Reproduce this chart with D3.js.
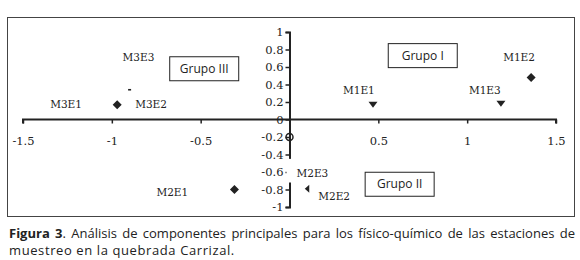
<!DOCTYPE html>
<html>
<head>
<meta charset="utf-8">
<script src="https://cdn.jsdelivr.net/npm/d3@7"></script>
<style>
  body { margin: 0; background: #fff; }
  svg { display: block; }
</style>
</head>
<body>
<svg id="chart"></svg>
<script>
// station scores on the first two components
var names = ['M1E1', 'M1E2', 'M1E3', 'M2E1', 'M2E2', 'M2E3', 'M3E1', 'M3E2', 'M3E3'];
var xVals = [0.47, 1.36, 1.19, -0.31, 0.10, 0.00, -0.97, -0.97, -0.90];
var yVals = [0.17, 0.48, 0.18, -0.80, -0.79, -0.20, 0.17, 0.17, 0.34];
var shapes = ['triDown', 'diamond', 'triDown', 'diamond', 'triLeft', 'circle', 'diamond', 'none', 'dash'];

var groupNames = ['Grupo I', 'Grupo II', 'Grupo III'];
var groupX = [0.75, 0.62, -0.48];
var groupY = [0.73, -0.74, 0.58];

var xTicks = [-1.5, -1, -0.5, 0.5, 1, 1.5];
var yTicks = [-1, -0.8, -0.6, -0.4, -0.2, 0, 0.2, 0.4, 0.6, 0.8, 1];

// label placement (pixels from the marker)
var labelDx = [-30, -28, -32, -78, 11, 7, -67, 18, -7];
var labelDy = [-14, -20, -13, 3, 8, 36, 0, 0, -32];

var W = 580, H = 260;
var svg = d3.select('#chart').attr('width', W).attr('height', H);

var x = d3.scaleLinear().domain([-1.5, 1.5]).range([23, 556]);
var y = d3.scaleLinear().domain([-1, 1]).range([207, 32]);

var ink = '#222';
var serif = '"DejaVu Serif", serif';

svg.append('rect')
  .attr('x', 7.5).attr('y', 17.5)
  .attr('width', 567).attr('height', 199)
  .style('fill', 'none')
  .style('stroke', '#444')
  .style('stroke-width', 1);

// x axis
var xAxis = svg.append('g')
  .attr('transform', `translate(0, ${y(0)})`)
  .call(d3.axisBottom(x).tickValues(xTicks).tickSize(4).tickFormat(d => String(d)));
xAxis.select('.domain').attr('d', `M${x(-1.5)},4V0H${x(1.5)}V4`).style('stroke', ink).style('stroke-width', 2);
xAxis.selectAll('line').style('stroke', ink).style('stroke-width', 1.5);
xAxis.selectAll('text')
  .attr('dy', 0).attr('y', 25)
  .style('font-family', serif).style('font-size', '11.5px').style('fill', ink);

// y axis
var yAxis = svg.append('g')
  .attr('transform', `translate(${x(0)}, 0)`)
  .call(d3.axisLeft(y).tickValues(yTicks).tickSize(4).tickFormat(d => String(d)));
yAxis.select('.domain').style('stroke', ink).style('stroke-width', 2);
yAxis.selectAll('line').style('stroke', ink).style('stroke-width', 1.5);
yAxis.selectAll('text')
  .attr('x', -6)
  .style('font-family', serif).style('font-size', '11.5px').style('fill', ink);

// white gap behind the M2E3 label
svg.append('rect')
  .attr('x', x(0) - 3).attr('y', y(-0.45))
  .attr('width', 8).attr('height', y(-0.72) - y(-0.45))
  .style('fill', '#fff');

// markers
var sym = {
  diamond: 'M0,-4.5L4.5,0L0,4.5L-4.5,0Z',
  triDown: 'M-4.5,-3L4.5,-3L0,3Z',
  triLeft: 'M-2.5,0L2,-4L2,4Z',
  dash: 'M-1.5,-0.8H1.5V0.8H-1.5Z',
  circle: 'M-3.5,0A3.5,3.5 0 1,0 3.5,0A3.5,3.5 0 1,0 -3.5,0Z',
  none: ''
};

var pts = names.map((n, i) => ({name: n, x: xVals[i], y: yVals[i], shape: shapes[i], dx: labelDx[i], dy: labelDy[i]}));

svg.selectAll('path.pt')
  .data(pts)
  .enter()
  .append('path')
  .attr('class', 'pt')
  .attr('transform', d => `translate(${x(d.x)}, ${y(d.y)})`)
  .attr('d', d => sym[d.shape])
  .style('fill', d => d.shape === 'circle' ? 'none' : ink)
  .style('stroke', d => d.shape === 'circle' ? ink : 'none')
  .style('stroke-width', 1.5);

svg.selectAll('text.lbl')
  .data(pts)
  .enter()
  .append('text')
  .attr('class', 'lbl')
  .attr('x', d => x(d.x) + d.dx)
  .attr('y', d => y(d.y) + d.dy)
  .attr('dy', '0.35em')
  .style('font-family', serif)
  .style('font-size', '10.5px')
  .style('fill', ink)
  .text(d => d.name);

// group boxes
var grp = svg.selectAll('g.grp')
  .data(groupNames)
  .enter()
  .append('g')
  .attr('class', 'grp')
  .attr('transform', (d, i) => `translate(${x(groupX[i])}, ${y(groupY[i])})`);

grp.append('text')
  .attr('text-anchor', 'middle')
  .attr('dy', '0.35em')
  .style('font-family', '"Open Sans", sans-serif')
  .style('font-size', '12px')
  .style('fill', ink)
  .text(d => d);

grp.insert('rect', 'text')
  .attr('x', -34.5).attr('y', -12)
  .attr('width', 69).attr('height', 24)
  .style('fill', '#fff')
  .style('stroke', ink)
  .style('stroke-width', 1);

// caption, first line justified with word spacing
var cap = svg.append('g')
  .style('font-family', '"Open Sans", sans-serif')
  .style('font-size', '13px')
  .style('fill', ink);
var l1 = cap.append('text').attr('x', 9).attr('y', 238);
l1.append('tspan').style('font-weight', 'bold').text('Figura 3');
l1.append('tspan').text('. Análisis de componentes principales para los físico-químico de las estaciones de');
var natural = l1.node().getComputedTextLength();
var gaps = 12;
l1.style('word-spacing', ((566 - natural) / gaps) + 'px');
cap.append('text').attr('x', 9).attr('y', 255)
  .style('letter-spacing', '0.6px')
  .text('muestreo en la quebrada Carrizal.');
</script>
</body>
</html>
